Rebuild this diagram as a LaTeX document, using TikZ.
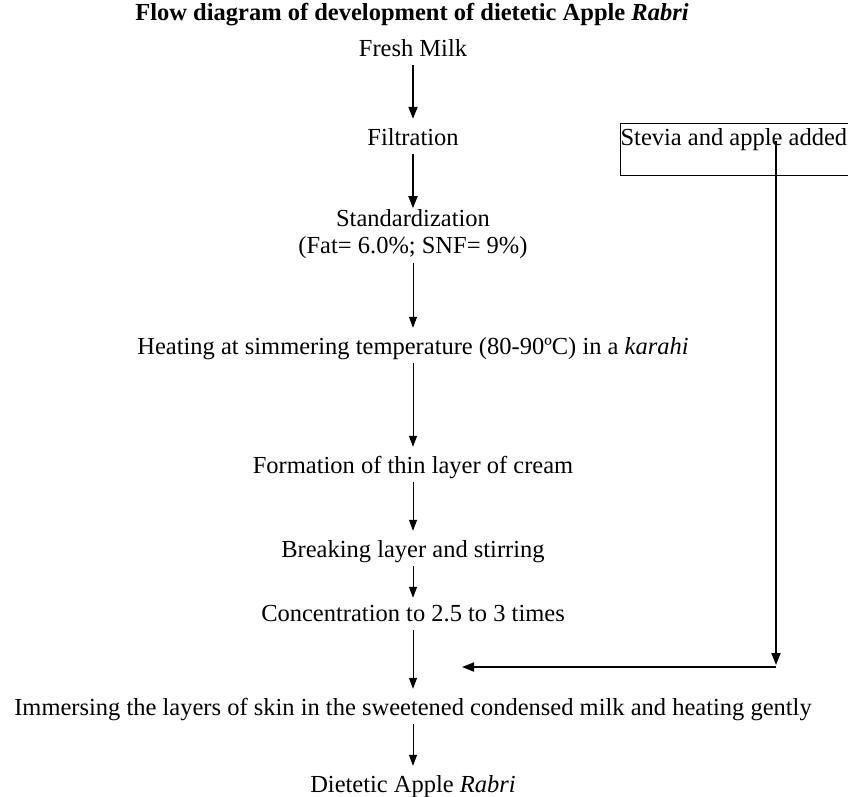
\documentclass[tikz,border=0pt]{standalone}
\usepackage{fontspec}
\setmainfont{Liberation Serif}
\usetikzlibrary{arrows.meta}

\tikzset{
  stage/.style={inner xsep=0, inner ysep=4pt, text height=17pt, text depth=5pt},
  arr/.style={line width=1pt, -{Triangle[length=11pt,width=8pt]}, shorten >=5pt},
  thickarr/.style={line width=1.8pt, -{Triangle[length=12pt,width=9pt]}, shorten >=5pt},
  stevbox/.style={draw, line width=1.2pt, anchor=north west, inner xsep=0, inner ysep=0, text height=22pt, text depth=30pt}
}

\begin{document}
\begin{tikzpicture}[x=1pt, y=-1pt, font=\fontsize{24.5}{27}\selectfont]
\useasboundingbox (0, 0) rectangle (848, 796);
\node [stage] (title) at (412, 14) {\textbf{Flow diagram of development of dietetic Apple \textit{Rabri}}};
\node [stage] (fresh) at (413, 50) {Fresh Milk};
\node [stage] (filt) at (413, 139) {Filtration};
\node [inner xsep=0, inner ysep=4pt, align=center] (std) at (413, 234) {Standardization\\(Fat= 6.0\%; SNF= 9\%)};
\node [stage] (heat) at (413, 348) {Heating at simmering temperature (80-90ºC) in a \textit{karahi}};
\node [stage] (form) at (413, 467) {Formation of thin layer of cream};
\node [stage] (brk) at (413, 551) {Breaking layer and stirring};
\node [stage] (conc) at (413, 615) {Concentration to 2.5 to 3 times};
\node [stage] (imm) at (413, 709) {Immersing the layers of skin in the sweetened condensed milk and heating gently};
\node [stage] (diet) at (413, 786) {Dietetic Apple \textit{Rabri}};
\node [stevbox] (stevia) at (620, 123) {Stevia and apple added\kern24pt};
\coordinate (turn) at (776, 667);
\coordinate (join) at (462, 667);
\draw [thickarr] (fresh) -- (filt);
\draw [thickarr, shorten >=-3pt] (filt) -- (std);
\draw [arr] (std) -- (heat);
\draw [arr] (heat) -- (form);
\draw [arr] (form) -- (brk);
\draw [arr, shorten >=2pt] (brk) -- (conc);
\draw [arr] (conc) -- (imm);
\draw [arr] (imm) -- (diet);
\draw [thickarr, shorten >=2pt] ([yshift=-18pt]stevia.north -| turn) -- (turn);
\draw [thickarr, shorten >=0pt] (turn) -- (join);
\end{tikzpicture}
\end{document}
